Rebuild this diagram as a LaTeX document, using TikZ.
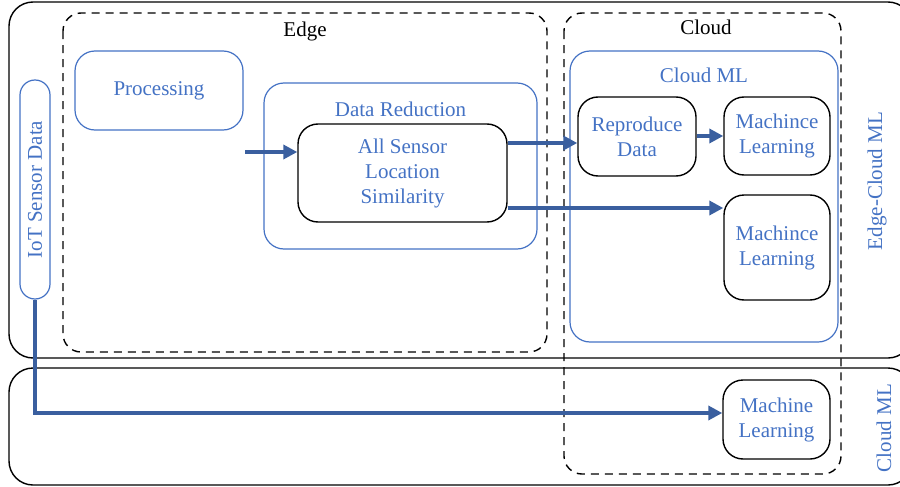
\documentclass[tikz,border=0pt]{standalone}
\usepackage{fontspec}
\setmainfont{Liberation Serif}
\usepackage[HTML]{xcolor}
\usepackage{tikz}
\usetikzlibrary{positioning, arrows, arrows.meta}

\definecolor{mlblue}{HTML}{4472C4}
\definecolor{flowblue}{HTML}{3A5F9F}

\begin{document}
\begin{tikzpicture}[x=0.5pt, y=-0.5pt, >=Latex,
    every node/.style={font=\fontsize{10.5}{12.5}\selectfont, align=center, inner sep=0pt},
    bluebox/.style={draw=mlblue, line width=0.6pt, rounded corners=10pt, text=mlblue},
    blackbox/.style={draw=black, line width=0.7pt, rounded corners=10pt, text=mlblue},
    bluetext/.style={text=mlblue},
    zone/.style={draw=black, line width=0.7pt, rounded corners=12pt},
    dashzone/.style={draw=black, line width=0.7pt, dashed, dash pattern=on 4pt off 3pt, rounded corners=9pt},
    flow/.style={draw=flowblue, line width=2.4pt, -{Triangle[length=7pt, width=7pt]}}]

    \clip (0,0) rectangle (900,487);

    % 1. Outer zones and dashed groups
    \draw[zone] (9,2) rectangle (912,358);
    \draw[zone] (9,368) rectangle (912,485);
    \draw[dashzone] (63,13) rectangle (547,352);
    \draw[dashzone] (564,13) rectangle (841,474);

    \node (edge) at (305,31) {Edge};
    \node (cloud) at (706,27) {Cloud};
    \node[bluetext, rotate=90] (ecml) at (877,181) {Edge-Cloud ML};
    \node[bluetext, rotate=90] (cml) at (884,428) {Cloud ML};

    % 2. Edge side nodes
    \node[bluebox, rotate=90, minimum width=109.5pt, minimum height=15pt, rounded corners=7.5pt]
        (iot) at (35,189.5) {IoT Sensor Data};
    \node[bluebox, minimum width=84pt, minimum height=39.5pt] (proc) at (159,90.5) {Processing};
    \node[bluebox, minimum width=136.5pt, minimum height=83pt] (reduc) at (400.5,166) {};
    \node[bluetext, below=9.5pt of reduc.north] (reducl) {Data Reduction};
    \node[blackbox, minimum width=104.5pt, minimum height=49pt] (sim) at (402.5,173)
        {All Sensor\\Location\\Similarity};

    % 3. Cloud side nodes
    \node[bluebox, minimum width=134pt, minimum height=145.5pt] (cloudml) at (704,196.5) {};
    \node[bluetext, below=8.5pt of cloudml.north] (cloudmll) {Cloud ML};
    \node[blackbox, minimum width=59pt, minimum height=39.5pt] (repro) at (637,136.5) {Reproduce\\Data};
    \node[blackbox, minimum width=53pt, minimum height=39pt] (mla) at (777,136) {Machince\\Learning};
    \node[blackbox, minimum width=53pt, minimum height=52.5pt] (mlb) at (777,247.5) {Machince\\Learning};
    \node[blackbox, minimum width=53.5pt, minimum height=39.5pt] (mlc) at (776.5,419.5) {Machine\\Learning};

    % 4. Flows
    \coordinate (pin) at (245,152);
    \draw[flow] (pin) -- (pin -| sim.west);
    \draw[flow] ([yshift=15pt]sim.east) -- ([yshift=15pt]sim.east -| repro.west);
    \draw[flow] (repro.east |- mla.west) -- (mla.west);
    \draw[flow] ([yshift=-17.5pt]sim.east) -- ([yshift=-17.5pt]sim.east -| mlb.west);
    \draw[flow, rounded corners=0pt] (iot.west) |- ([yshift=3.25pt]mlc.west);
\end{tikzpicture}
\end{document}
